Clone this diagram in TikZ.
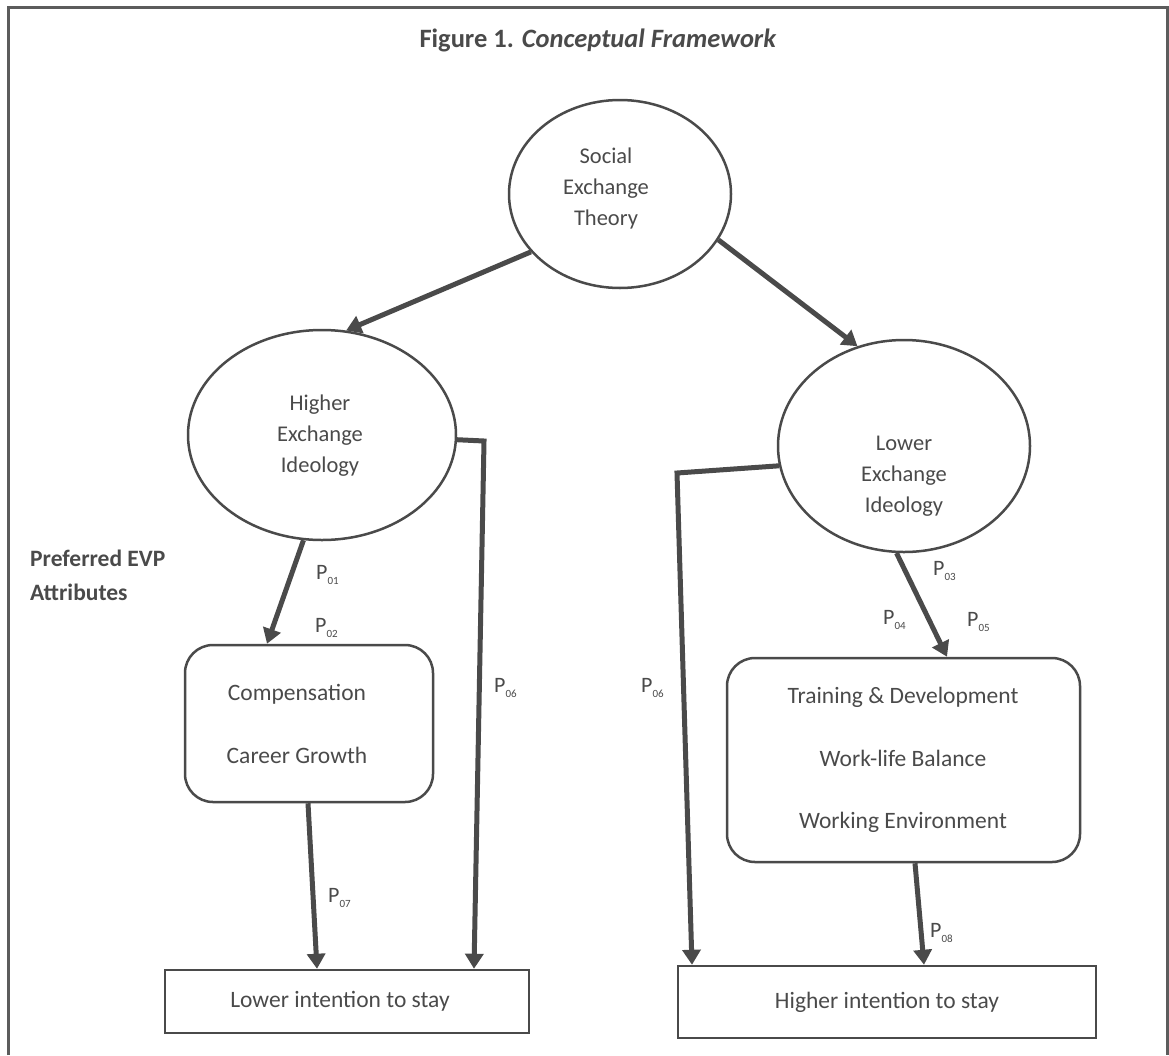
\documentclass[tikz,border=0pt]{standalone}
\usepackage{fontspec}
\setmainfont{Carlito}
\usetikzlibrary{arrows.meta,shapes.geometric}
\definecolor{ink}{HTML}{4A4A4A}
\definecolor{txt}{HTML}{4A4A4A}
\newcommand{\pl}[1]{P\raisebox{-0.4ex}{\fontsize{11}{11}\selectfont #1}}
\begin{document}
\begin{tikzpicture}[x=1pt,y=-1pt,
  every node/.style={text=txt},
  oval/.style={draw=ink, line width=2.5pt, ellipse, inner sep=0pt},
  ovaltext/.style={align=center, inner sep=0pt, font=\fontsize{22.5}{31}\selectfont},
  rbox/.style={draw=ink, line width=2.5pt, rounded corners=28pt, inner sep=0pt},
  boxtext/.style={align=center, inner sep=0pt, font=\fontsize{23.5}{62.5}\selectfont},
  sbox/.style={draw=ink, line width=2.5pt, inner sep=0pt, font=\fontsize{23.5}{28}\selectfont},
  link/.style={draw=ink, line width=5pt, -{Triangle[length=15pt,width=18pt]}},
  plab/.style={font=\fontsize{22}{24}\selectfont, inner sep=0pt, anchor=west},
  frame/.style={draw=ink!90, line width=3pt}
]
\useasboundingbox (0,0) rectangle (1169,1055);
\draw[frame] (8,1055) -- (8,7) -- (1167,7) -- (1167,1055);

\node[font=\fontsize{26.5}{30}\selectfont\bfseries] (title) at (598,40)
  {Figure 1. \textit{Conceptual Framework}};

\node[oval, minimum width=222pt, minimum height=188pt] (soc) at (620,194) {};
\node[ovaltext] (soctext) at (606,188) {Social\\Exchange\\Theory};
\node[oval, minimum width=268pt, minimum height=210pt] (hi) at (322,435) {};
\node[ovaltext] (hitext) at (320,436) {Higher\\Exchange\\Ideology};
\node[oval, minimum width=252pt, minimum height=212pt] (lo) at (904,446) {};
\node[ovaltext] (lotext) at (904,476) {Lower\\Exchange\\Ideology};

\node[anchor=west, align=left, inner sep=0pt,
      font=\fontsize{23.5}{34}\selectfont\bfseries] (evp) at (30,575)
  {Preferred EVP\\Attributes};

\node[rbox, minimum width=248pt, minimum height=157pt] (comp) at (309,723.5) {};
\node[boxtext] (comptext) at (297,724) {Compensation\\Career Growth};
\node[rbox, minimum width=353pt, minimum height=204pt] (train) at (903.5,760) {};
\node[boxtext] (traintext) at (903,760)
  {Training \& Development\\Work-life Balance\\Working Environment};

\node[sbox, minimum width=364pt, minimum height=63pt] (lowstay) at (347,1001.5)
  {\hspace*{-14pt}Lower intention to stay};
\node[sbox, minimum width=418pt, minimum height=72pt] (histay) at (887,1002)
  {Higher intention to stay};

% connectors
\draw[link] (soc.213) -- (hi.77);
\draw[link] (soc.-25) -- (lo.115);
\draw[link] (hi.-100) -- (267,0 |- comp.north);
\coordinate (bendL) at (484,441);
\draw[link] (hi.-2) -- (bendL) -- (474,0 |- lowstay.north);
\draw[link] (308,0 |- comp.south) -- (317,0 |- lowstay.north);
\coordinate (bendR) at (677,473);
\draw[link] (lo.189) -- (bendR) -- (692,0 |- histay.north);
\draw[link] (lo.-94) -- (947,0 |- train.north);
\draw[link] (915,0 |- train.south) -- (924,0 |- histay.north);

% labels
\node[plab] (p01) at (316,575) {\pl{01}};
\node[plab] (p02) at (315,628) {\pl{02}};
\node[plab] (p06a) at (494,688) {\pl{06}};
\node[plab] (p07) at (328,898) {\pl{07}};
\node[plab] (p03) at (933,571) {\pl{03}};
\node[plab] (p04) at (883,620) {\pl{04}};
\node[plab] (p05) at (967,622) {\pl{05}};
\node[plab] (p06b) at (641,688) {\pl{06}};
\node[plab] (p08) at (930,933) {\pl{08}};
\end{tikzpicture}
\end{document}
